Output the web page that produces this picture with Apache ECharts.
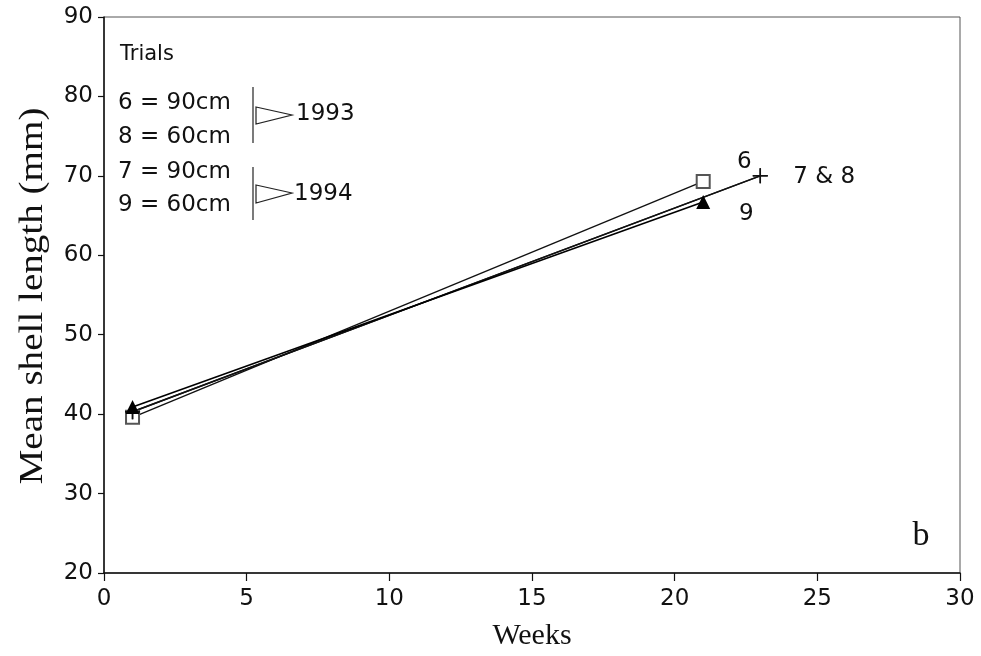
<!DOCTYPE html>
<html>
<head>
<meta charset="utf-8">
<script src="https://cdn.jsdelivr.net/npm/echarts@6/dist/echarts.min.js"></script>
<style>
  html, body { margin: 0; padding: 0; background: #fff; }
  #chart { width: 981px; height: 656px; }
</style>
</head>
<body>
<div id="chart"></div>
<script>
// ---- data ----
const xTicks = [0, 5, 10, 15, 20, 25, 30];
const yTicks = [20, 30, 40, 50, 60, 70, 80, 90];

const weeks6 = [1, 21];
const len6   = [39.6, 69.3];
const weeks7 = [1, 23];
const len7   = [40.3, 70.0];
const weeks8 = [1, 23];
const len8   = [40.3, 70.0];
const weeks9 = [1, 21];
const len9   = [40.9, 66.7];

const legendTitle = 'Trials';
const legendRows = ['6 = 90cm', '8 = 60cm', '7 = 90cm', '9 = 60cm'];
const legendYears = ['1993', '1994'];
const endLabels = { s6: '6', s78: '7 & 8', s9: '9' };
const xName = 'Weeks';
const yName = 'Mean shell length (mm)';
const panelTag = 'b';

const SANS = '"DejaVu Sans", "Liberation Sans", sans-serif';
const SERIF = '"Liberation Serif", "DejaVu Serif", serif';

function buildData(ws, vs, lastLabel) {
  return ws.map((w, i) => {
    if (i === ws.length - 1 && lastLabel) {
      return { value: [w, vs[i]], label: lastLabel };
    }
    return [w, vs[i]];
  });
}
function endLabel(text, off) {
  return {
    show: true, formatter: text, position: 'inside', offset: off,
    color: '#111', fontFamily: SANS, fontSize: 23
  };
}

const chart = echarts.init(document.getElementById('chart'), null, { renderer: 'canvas' });

const crossPath = 'path://M0,5L10,5M5,0L5,10';

const option = {
  backgroundColor: '#fff',
  animation: false,
  grid: {
    left: 104, right: 21, top: 17, bottom: 81,
    show: true, borderColor: '#555', borderWidth: 1, backgroundColor: 'transparent'
  },
  xAxis: {
    type: 'value', min: xTicks[0], max: xTicks[xTicks.length - 1], interval: 5,
    name: xName, nameLocation: 'middle', nameGap: 48,
    nameTextStyle: { fontFamily: SERIF, fontSize: 30, color: '#111' },
    axisLine: { show: true, lineStyle: { color: '#111', width: 1.5 } },
    axisTick: { show: true, inside: false, length: 8, lineStyle: { color: '#111', width: 1.2 } },
    axisLabel: { fontFamily: SANS, fontSize: 23, color: '#111', margin: 15 },
    splitLine: { show: false }
  },
  yAxis: {
    type: 'value', min: yTicks[0], max: yTicks[yTicks.length - 1], interval: 10,
    axisLine: { show: true, lineStyle: { color: '#111', width: 1.5 } },
    axisTick: { show: true, inside: false, length: 6, lineStyle: { color: '#111', width: 1.2 } },
    axisLabel: { fontFamily: SANS, fontSize: 23, color: '#111', margin: 11 },
    splitLine: { show: false }
  },
  series: [
    {
      name: '6', type: 'line', z: 3,
      data: buildData(weeks6, len6, endLabel(endLabels.s6, [41, -19])),
      symbol: 'emptyRect', symbolSize: 13,
      itemStyle: { color: '#555', borderColor: '#555', borderWidth: 1.2 },
      lineStyle: { color: '#111', width: 1.4 }
    },
    {
      name: '7', type: 'line', z: 3,
      data: buildData(weeks7, len7, endLabel(endLabels.s78, [64, 1])),
      symbol: crossPath, symbolSize: 15,
      itemStyle: { color: '#111', borderColor: '#111', borderWidth: 1.5 },
      lineStyle: { color: '#111', width: 1.4 }
    },
    {
      name: '8', type: 'line', z: 3,
      data: buildData(weeks8, len8, null),
      symbol: crossPath, symbolSize: 15,
      itemStyle: { color: '#111', borderColor: '#111', borderWidth: 1.5 },
      lineStyle: { color: '#111', width: 1.4 }
    },
    {
      name: '9', type: 'line', z: 4,
      data: buildData(weeks9, len9, endLabel(endLabels.s9, [43, 12])),
      symbol: 'triangle', symbolSize: 14,
      itemStyle: { color: '#000' },
      lineStyle: { color: '#000', width: 1.6 }
    }
  ],
  graphic: [
    {
      type: 'text', x: 33, y: 296, rotation: Math.PI / 2, scaleX: 1.15, scaleY: 1,
      style: { text: yName, font: '34px ' + SERIF, fill: '#111', textAlign: 'center', textVerticalAlign: 'middle' }
    },
    {
      type: 'text', x: 921, y: 536,
      style: { text: panelTag, font: '34px ' + SERIF, fill: '#111', textAlign: 'center', textVerticalAlign: 'middle' }
    },
    {
      type: 'text', x: 120, y: 55,
      style: { text: legendTitle, font: '21px ' + SANS, fill: '#111', textAlign: 'left', textVerticalAlign: 'middle' }
    },
    ...legendRows.map((t, i) => ({
      type: 'text', x: 118, y: [103, 137, 172, 205][i],
      style: { text: t, font: '23px ' + SANS, fill: '#111', textAlign: 'left', textVerticalAlign: 'middle' }
    })),
    // brackets
    { type: 'line', shape: { x1: 253, y1: 87, x2: 253, y2: 143 }, style: { stroke: '#222', lineWidth: 1.2 } },
    { type: 'polygon', shape: { points: [[256, 107], [292, 115], [256, 124]] }, style: { fill: 'none', stroke: '#222', lineWidth: 1.2 } },
    { type: 'line', shape: { x1: 253, y1: 167, x2: 253, y2: 220 }, style: { stroke: '#222', lineWidth: 1.2 } },
    { type: 'polygon', shape: { points: [[256, 185], [292, 193], [256, 203]] }, style: { fill: 'none', stroke: '#222', lineWidth: 1.2 } },
    {
      type: 'text', x: 296, y: 114,
      style: { text: legendYears[0], font: '23px ' + SANS, fill: '#111', textAlign: 'left', textVerticalAlign: 'middle' }
    },
    {
      type: 'text', x: 294, y: 194,
      style: { text: legendYears[1], font: '23px ' + SANS, fill: '#111', textAlign: 'left', textVerticalAlign: 'middle' }
    }
  ]
};

chart.setOption(option);
</script>
</body>
</html>
